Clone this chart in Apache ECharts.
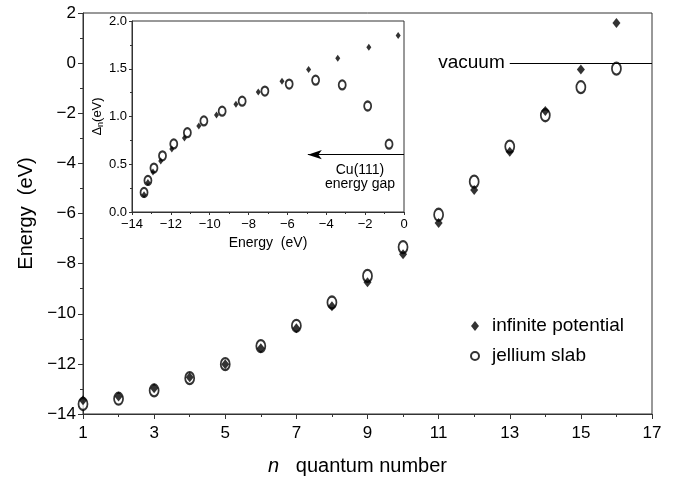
<!DOCTYPE html>
<html><head><meta charset="utf-8">
<script src="https://cdn.jsdelivr.net/npm/echarts/dist/echarts.min.js"></script>
<style>html,body{margin:0;padding:0;background:#fff}#c{width:678px;height:481px}</style>
</head><body><div id="c"></div>
<script>
// Main panel: energy levels vs quantum number
const quantumNumbers = [1,2,3,4,5,6,7,8,9,10,11,12,13,14,15,16];
const infinitePotential = [-13.45,-13.3,-12.97,-12.53,-12.01,-11.38,-10.58,-9.7,-8.74,-7.63,-6.38,-5.06,-3.54,-1.91,-0.25,1.6];
const jelliumSlab = [-13.6,-13.39,-13.06,-12.57,-12.01,-11.29,-10.48,-9.55,-8.49,-7.34,-6.05,-4.73,-3.33,-2.08,-0.96,-0.22];
// Inset: level spacing vs energy
const insetEnergyInfinite = [-13.38,-13.18,-12.92,-12.52,-11.95,-11.30,-10.56,-9.65,-8.65,-7.5,-6.28,-4.91,-3.41,-1.81,-0.30];
const insetDeltaInfinite = [0.18,0.31,0.42,0.535,0.66,0.776,0.90,1.016,1.127,1.256,1.37,1.493,1.61,1.725,1.848];
const insetEnergyJellium = [-13.38,-13.18,-12.87,-12.43,-11.85,-11.15,-10.30,-9.36,-8.33,-7.16,-5.91,-4.55,-3.18,-1.87,-0.77];
const insetDeltaJellium = [0.205,0.33,0.46,0.588,0.713,0.83,0.953,1.056,1.16,1.266,1.34,1.38,1.33,1.11,0.71];
// Annotations
const vacuumLevel = 0;
const vacuumFrom = 13;
const gapEdgeDelta = 0.6;
const gapArrowTip = -4.95;
const seriesNames = ['infinite potential', 'jellium slab'];

const FONT = 'Liberation Sans, Arial, sans-serif';
const AX = '#333';
const minus = v => String(v).replace('-', '\u2212');
const zip = (a, b) => a.map((v, i) => [v, b[i]]);

const chart = echarts.init(document.getElementById('c'), null, {renderer: 'canvas'});
chart.setOption({
  animation: false,
  backgroundColor: '#fff',
  textStyle: {fontFamily: FONT, color: '#000'},
  grid: [
    {left: 83, top: 13, width: 569, height: 403, show: true, borderColor: AX, borderWidth: 1, containLabel: false},
    {left: 132, top: 21, width: 272, height: 191, show: true, borderColor: AX, borderWidth: 1, backgroundColor: '#fff', containLabel: false}
  ],
  xAxis: [
    {gridIndex: 0, type: 'value', min: 1, max: 17, interval: 2,
     name: '{i|n}{t|   quantum number}', nameLocation: 'middle', nameGap: 42,
     nameTextStyle: {padding: [0, 20, 0, 0], rich: {i: {fontSize: 20, fontStyle: 'italic', fontFamily: FONT}, t: {fontSize: 20, fontFamily: FONT}}},
     axisLine: {onZero: false, lineStyle: {color: AX, width: 1}}, axisTick: {inside: false, length: 5, lineStyle: {color: AX}},
     minorTick: {show: true, splitNumber: 2, length: 3, lineStyle: {color: AX}},
     splitLine: {show: false}, axisLabel: {fontSize: 17, margin: 11, color: '#000', formatter: minus}},
    {gridIndex: 1, type: 'value', min: -14, max: 0, interval: 2,
     name: 'Energy  (eV)', nameLocation: 'middle', nameGap: 24, nameTextStyle: {fontSize: 14},
     axisLine: {onZero: false, lineStyle: {color: AX, width: 1}}, axisTick: {length: 3, lineStyle: {color: AX}},
     minorTick: {show: true, splitNumber: 2, length: 2, lineStyle: {color: AX}},
     splitLine: {show: false}, axisLabel: {fontSize: 13, margin: 6, color: '#000', formatter: minus}}
  ],
  yAxis: [
    {gridIndex: 0, type: 'value', min: -14, max: 2, interval: 2,
     name: 'Energy  (eV)', nameLocation: 'middle', nameGap: 47, nameTextStyle: {fontSize: 20},
     axisLine: {onZero: false, lineStyle: {color: AX, width: 1}}, axisTick: {length: 5, lineStyle: {color: AX}},
     minorTick: {show: true, splitNumber: 2, length: 3, lineStyle: {color: AX}},
     splitLine: {show: false}, axisLabel: {fontSize: 17, margin: 7, color: '#000', formatter: minus}},
    {gridIndex: 1, type: 'value', min: 0, max: 2, interval: 0.5,
     name: '{d|\u0394}{s|n}{d|(eV)}', nameLocation: 'middle', nameGap: 11,
     nameTextStyle: {rich: {d: {fontSize: 13, fontFamily: FONT, lineHeight: 16}, s: {fontSize: 9, fontFamily: FONT, lineHeight: 16, verticalAlign: 'bottom', padding: [5, 0, 0, 0]}}},
     axisLine: {onZero: false, lineStyle: {color: AX, width: 1}}, axisTick: {length: 3, lineStyle: {color: AX}},
     minorTick: {show: true, splitNumber: 2, length: 2, lineStyle: {color: AX}},
     splitLine: {show: false}, axisLabel: {fontSize: 13, margin: 5, color: '#000', formatter: v => v.toFixed(1)}}
  ],
  legend: {
    orient: 'vertical', left: 465, top: 311, itemWidth: 8, itemHeight: 10, itemGap: 10,
    textStyle: {fontSize: 19, color: '#000', fontFamily: FONT, padding: [0, 0, 0, 8], lineHeight: 20},
    data: [{name: seriesNames[0], icon: 'diamond'}, {name: seriesNames[1], icon: 'emptyCircle'}]
  },
  series: [
    {name: seriesNames[1], type: 'scatter', xAxisIndex: 0, yAxisIndex: 0, z: 2,
     symbol: 'emptyCircle', symbolSize: [9, 12],
     itemStyle: {color: '#000', borderColor: '#000', borderWidth: 1.2},
     data: zip(quantumNumbers, jelliumSlab)},
    {name: seriesNames[0], type: 'scatter', xAxisIndex: 0, yAxisIndex: 0, z: 3,
     symbol: 'diamond', symbolSize: [8, 10], itemStyle: {color: '#000'},
     data: zip(quantumNumbers, infinitePotential),
     markLine: {silent: true, symbol: ['none', 'none'], animation: false,
       lineStyle: {color: '#000', width: 1.2, type: 'solid'},
       label: {show: true, position: 'start', formatter: 'vacuum', fontSize: 19, color: '#000', fontFamily: FONT, distance: 5},
       data: [[{coord: [vacuumFrom, vacuumLevel]}, {coord: [17, vacuumLevel]}]]}},
    {name: seriesNames[1], type: 'scatter', xAxisIndex: 1, yAxisIndex: 1, z: 4,
     symbol: 'emptyCircle', symbolSize: [7, 9],
     itemStyle: {color: '#000', borderColor: '#000', borderWidth: 1.1},
     data: zip(insetEnergyJellium, insetDeltaJellium)},
    {name: seriesNames[0], type: 'scatter', xAxisIndex: 1, yAxisIndex: 1, z: 5,
     symbol: 'diamond', symbolSize: [5, 7], itemStyle: {color: '#000'},
     data: zip(insetEnergyInfinite, insetDeltaInfinite),
     markLine: {silent: true, symbol: ['none', 'arrow'], symbolSize: [7, 14], animation: false,
       lineStyle: {color: '#000', width: 1.2, type: 'solid'}, label: {show: false},
       data: [[{coord: [0, gapEdgeDelta]}, {coord: [gapArrowTip, gapEdgeDelta]}]]}}
  ],
  graphic: [
    {type: 'text', z: 10,
     style: {text: 'Cu(111)\nenergy gap', x: 360, y: 177, textAlign: 'center', textVerticalAlign: 'middle', font: '14px ' + FONT, fill: '#000', lineHeight: 14}}
  ]
});
</script></body></html>
